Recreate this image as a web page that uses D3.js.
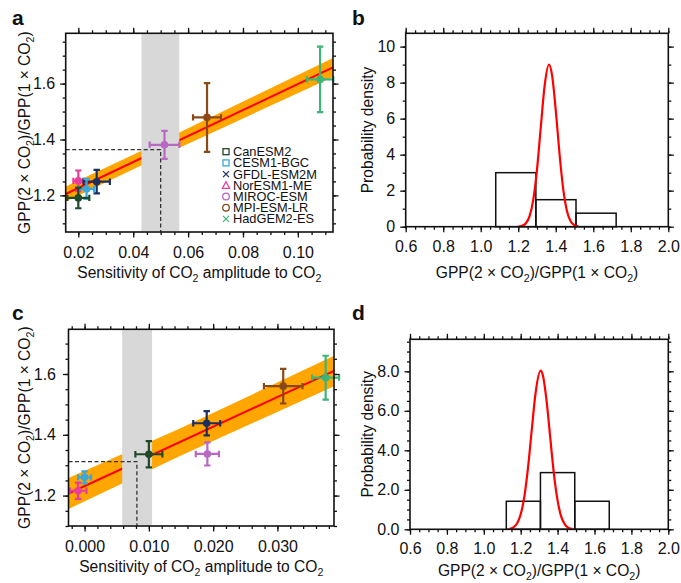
<!DOCTYPE html>
<html><head><meta charset="utf-8">
<script src="https://cdn.jsdelivr.net/npm/d3@7"></script>
<style>
body{margin:0;background:#fff}
svg{display:block}
text{font-family:"Liberation Sans",Arial,Helvetica,sans-serif;fill:#111}
</style>
</head><body>
<svg id="chart" width="681" height="583"></svg>
<script>
// ---------------- DATA ----------------
const models = ["CanESM2","CESM1-BGC","GFDL-ESM2M","NorESM1-ME","MIROC-ESM","MPI-ESM-LR","HadGEM2-ES"];
const modelColors = ["#1f4a29","#3ba7d6","#1d2f5f","#ea3c9b","#b867c3","#8a4917","#3db478"];
const legendSymbols = ["square","square","cross","triangle","circle","circle","cross"];
const drawOrder = [6,5,4,3,2,1,0];

// panel a
const aSens    = [0.0200,0.0230,0.0267,0.0200,0.0514,0.0669,0.1081];
const aSensErr = [0.0040,0.0027,0.0048,0.0018,0.0054,0.0051,0.0048];
const aGpp     = [1.191,1.223,1.249,1.252,1.381,1.479,1.615];
const aGppErr  = [0.037,0.036,0.042,0.037,0.050,0.123,0.117];
const aFitX = [0.0154,0.1128];
const aFitY = [1.205,1.658];
const aBandX  = [0.0154,0.045,0.1128];
const aBandLo = [1.178,1.317,1.624];
const aBandHi = [1.232,1.369,1.692];
const aObsRange = [0.043,0.0568];
const aObsX = 0.050, aPredY = 1.364;
const aXTicks = [0.02,0.04,0.06,0.08,0.10];
const aXLabels = ["0.02","0.04","0.06","0.08","0.10"];
const aYTicks = [1.2,1.4,1.6];
const aYLabels = ["1.2","1.4","1.6"];

// panel c
const cSens    = [0.0100,0.0000,0.0190,-0.0010,0.0191,0.0309,0.0375];
const cSensErr = [0.0021,0.0010,0.0021,0.0013,0.0018,0.0030,0.0021];
const cGpp     = [1.336,1.260,1.438,1.216,1.337,1.560,1.588];
const cGppErr  = [0.043,0.020,0.040,0.027,0.038,0.057,0.072];
const cFitX = [-0.0025,0.0388];
const cFitY = [1.207,1.610];
const cBandX  = [-0.0025,0.015,0.0388];
const cBandLo = [1.156,1.332,1.560];
const cBandHi = [1.258,1.422,1.660];
const cObsRange = [0.00585,0.0105];
const cObsX = 0.00814, cPredY = 1.312;
const cXTicks = [0.000,0.010,0.020,0.030];
const cXLabels = ["0.000","0.010","0.020","0.030"];
const cYTicks = [1.2,1.4,1.6];
const cYLabels = ["1.2","1.4","1.6"];

// panel b
const bBinEdges = [1.080,1.294,1.508,1.722];
const bBinHeights = [3.0,1.5,0.75];
const bCurveX = [1.20,1.22,1.24,1.26,1.28,1.30,1.32,1.34,1.364,1.38,1.40,1.42,1.44,1.46,1.48,1.50,1.52];
const bCurveY = [0.01,0.05,0.18,0.57,1.49,3.17,5.50,7.77,9.00,8.43,6.47,4.05,2.07,0.86,0.29,0.08,0.02];
const bXTicks = [0.6,0.8,1.0,1.2,1.4,1.6,1.8,2.0];
const bXLabels = ["0.6","0.8","1.0","1.2","1.4","1.6","1.8","2.0"];
const bYTicks = [0,2,4,6,8,10];
const bYLabels = ["0","2","4","6","8","10"];

// panel d
const dBinEdges = [1.122,1.307,1.493,1.680];
const dBinHeights = [1.42,2.87,1.42];
const dCurveX = [1.14,1.16,1.18,1.20,1.22,1.24,1.26,1.28,1.308,1.32,1.34,1.36,1.38,1.40,1.42,1.44,1.46,1.48];
const dCurveY = [0.03,0.10,0.29,0.76,1.67,3.15,5.04,6.85,8.03,7.80,6.53,4.65,2.81,1.45,0.63,0.24,0.07,0.02];
const dXTicks = [0.6,0.8,1.0,1.2,1.4,1.6,1.8,2.0];
const dXLabels = ["0.6","0.8","1.0","1.2","1.4","1.6","1.8","2.0"];
const dYTicks = [0,2,4,6,8];
const dYLabels = ["0.0","2.0","4.0","6.0","8.0"];

const gppTitle = [["GPP(2 × CO",0],["2",1],[")/GPP(1 × CO",0],["2",1],[")",0]];
const sensTitle = [["Sensitivity of CO",0],["2",1],[" amplitude to CO",0],["2",1]];
const densTitle = [["Probability density",0]];

// ---------------- DRAWING ----------------
const svg = d3.select("#chart");

function richText(sel, parts, size){
  let inSub = false;
  parts.forEach(([t,sub])=>{
    const ts = sel.append("tspan").text(t);
    if(sub && !inSub){ ts.attr("font-size",size*0.68).attr("dy",size*0.28); inSub=true; }
    else if(!sub && inSub){ ts.attr("dy",-size*0.28); inSub=false; }
    else if(sub){ ts.attr("font-size",size*0.68); }
  });
}

function stepRange(a,b,s){
  const n = Math.round((b-a)/s);
  return d3.range(n+1).map(i=>+(a+i*s).toFixed(6));
}

function panel(cfg){
  const g = svg.append("g");
  const x = d3.scaleLinear().domain(cfg.xDom).range([cfg.x0,cfg.x1]);
  const y = d3.scaleLinear().domain(cfg.yDom).range([cfg.y1,cfg.y0]);
  const inX = v => v>=cfg.xDom[0]-1e-9 && v<=cfg.xDom[1]+1e-9;
  const inY = v => v>=cfg.yDom[0]-1e-9 && v<=cfg.yDom[1]+1e-9;
  const xMinor = stepRange(cfg.xMinor[0],cfg.xMinor[1],cfg.xMinor[2]).filter(inX);
  const yMinor = stepRange(cfg.yMinor[0],cfg.yMinor[1],cfg.yMinor[2]).filter(inY);
  const plot = g.append("g");
  const axes = g.append("g");
  const style = sel => {
    sel.select(".domain").remove();
    sel.selectAll("line").attr("stroke","#111").attr("stroke-width",1.3);
    sel.selectAll("text").attr("font-size",cfg.tickFont).attr("font-family",null).attr("fill","#111");
    sel.attr("font-family",null).attr("font-size",null);
  };
  // bottom
  axes.append("g").attr("transform",`translate(0,${cfg.y1})`)
    .call(d3.axisBottom(x).tickValues(xMinor).tickSize(3).tickFormat("")).call(style);
  axes.append("g").attr("transform",`translate(0,${cfg.y1})`)
    .call(d3.axisBottom(x).tickValues(cfg.xTicks).tickSize(5.5).tickPadding(cfg.xPad)
      .tickFormat((d,i)=>cfg.xLabels[i])).call(style);
  // top
  axes.append("g").attr("transform",`translate(0,${cfg.y0})`)
    .call(d3.axisTop(x).tickValues(xMinor).tickSize(3).tickFormat("")).call(style);
  axes.append("g").attr("transform",`translate(0,${cfg.y0})`)
    .call(d3.axisTop(x).tickValues(cfg.xTicks).tickSize(5.5).tickFormat("")).call(style);
  // left
  axes.append("g").attr("transform",`translate(${cfg.x0},0)`)
    .call(d3.axisLeft(y).tickValues(yMinor).tickSize(3).tickFormat("")).call(style);
  axes.append("g").attr("transform",`translate(${cfg.x0},0)`)
    .call(d3.axisLeft(y).tickValues(cfg.yTicks).tickSize(5.5).tickPadding(cfg.yPad)
      .tickFormat((d,i)=>cfg.yLabels[i])).call(style);
  // right
  axes.append("g").attr("transform",`translate(${cfg.x1},0)`)
    .call(d3.axisRight(y).tickValues(yMinor).tickSize(3).tickFormat("")).call(style);
  axes.append("g").attr("transform",`translate(${cfg.x1},0)`)
    .call(d3.axisRight(y).tickValues(cfg.yTicks).tickSize(5.5).tickFormat("")).call(style);
  // box
  axes.append("rect").attr("x",cfg.x0).attr("y",cfg.y0)
    .attr("width",cfg.x1-cfg.x0).attr("height",cfg.y1-cfg.y0)
    .attr("fill","none").attr("stroke","#111").attr("stroke-width",1.6);
  // titles
  const xt = g.append("text").attr("x",(cfg.x0+cfg.x1)/2).attr("y",cfg.xTitleY)
    .attr("text-anchor","middle").attr("font-size",cfg.titleFont);
  richText(xt,cfg.xTitle,cfg.titleFont);
  const yt = g.append("text")
    .attr("transform",`translate(${cfg.yTitleX},${(cfg.y0+cfg.y1)/2}) rotate(-90)`)
    .attr("text-anchor","middle").attr("font-size",cfg.titleFont);
  richText(yt,cfg.yTitle,cfg.titleFont);
  // panel letter
  g.append("text").attr("x",cfg.labelX).attr("y",cfg.labelY).attr("font-size",21)
    .attr("font-weight","bold").attr("font-family","'Liberation Sans',Arial,sans-serif").text(cfg.label);
  return {g:plot,x,y};
}

function scatterPanel(cfg, d){
  const p = panel(cfg);
  const {x,y,g} = p;
  const area = d3.area().x((v,i)=>x(d.bandX[i])).y0((v,i)=>y(d.bandLo[i])).y1((v,i)=>y(d.bandHi[i]));
  g.append("path").datum(d.bandX).attr("d",area).attr("fill","#ffa600");
  const line = d3.line().x((v,i)=>x(d.fitX[i])).y((v,i)=>y(d.fitY[i]));
  g.append("path").datum(d.fitX).attr("d",line).attr("fill","none").attr("stroke","#ff0000").attr("stroke-width",2);
  g.append("rect").attr("x",x(d.obs[0])).attr("width",x(d.obs[1])-x(d.obs[0]))
    .attr("y",cfg.y0+0.8).attr("height",cfg.y1-cfg.y0-1.6).attr("fill","#d8d8d8");
  g.append("path")
    .attr("d",`M${cfg.x0},${y(d.predY)}H${x(d.obsX)}V${cfg.y1}`)
    .attr("fill","none").attr("stroke","#333").attr("stroke-width",1.3).attr("stroke-dasharray","4,2.5");
  const cap = 3.2;
  drawOrder.forEach(i=>{
    const c = modelColors[i];
    const cx = x(d.sens[i]), cy = y(d.gpp[i]);
    const xl = x(d.sens[i]-d.sensErr[i]), xr = x(d.sens[i]+d.sensErr[i]);
    const yt = y(d.gpp[i]+d.gppErr[i]), yb = y(d.gpp[i]-d.gppErr[i]);
    const pg = g.append("g").attr("stroke",c).attr("stroke-width",2.2).attr("fill","none");
    pg.append("path").attr("d",
      `M${xl},${cy}H${xr}M${cx},${yt}V${yb}`+
      `M${xl},${cy-cap}V${cy+cap}M${xr},${cy-cap}V${cy+cap}`+
      `M${cx-cap},${yt}H${cx+cap}M${cx-cap},${yb}H${cx+cap}`);
    g.append("circle").attr("cx",cx).attr("cy",cy).attr("r",3.8).attr("fill",c);
  });
  return p;
}

function histPanel(cfg, d){
  const p = panel(cfg);
  const {x,y,g} = p;
  d.heights.forEach((h,i)=>{
    g.append("rect").attr("x",x(d.edges[i])).attr("y",y(h))
      .attr("width",x(d.edges[i+1])-x(d.edges[i])).attr("height",y(0)-y(h))
      .attr("fill","none").attr("stroke","#111").attr("stroke-width",1.5);
  });
  const line = d3.line().x((v,i)=>x(d.cx[i])).y((v,i)=>y(d.cy[i])).curve(d3.curveMonotoneX);
  g.append("path").datum(d.cx).attr("d",line).attr("fill","none").attr("stroke","#ff0000").attr("stroke-width",2.2);
  return p;
}

// Panel a
scatterPanel({
  x0:65.7,x1:333,y0:33.3,y1:232, xDom:[0.0154,0.1128], yDom:[1.069,1.78],
  xTicks:aXTicks,xLabels:aXLabels,yTicks:aYTicks,yLabels:aYLabels,
  xMinor:[0.015,0.115,0.005], yMinor:[1.05,1.80,0.05],
  tickFont:16, titleFont:15.6, xPad:9, yPad:5, xTitleY:278, yTitleX:30,
  xTitle:sensTitle, yTitle:gppTitle, label:"a", labelX:12, labelY:25
},{sens:aSens,sensErr:aSensErr,gpp:aGpp,gppErr:aGppErr,fitX:aFitX,fitY:aFitY,
   bandX:aBandX,bandLo:aBandLo,bandHi:aBandHi,obs:aObsRange,obsX:aObsX,predY:aPredY});

// legend in panel a
const leg = svg.append("g");
models.forEach((m,i)=>{
  const ly = 151.7 + i*11.2, lx = 226;
  const c = modelColors[i], s = legendSymbols[i];
  const gg = leg.append("g").attr("stroke",c).attr("stroke-width",1.3).attr("fill","none");
  if(s==="square") gg.append("rect").attr("x",lx-3).attr("y",ly-3).attr("width",6).attr("height",6);
  else if(s==="circle") gg.append("circle").attr("cx",lx).attr("cy",ly).attr("r",3.3);
  else if(s==="triangle") gg.append("path").attr("d",`M${lx},${ly-3.6}L${lx+3.6},${ly+3}L${lx-3.6},${ly+3}Z`);
  else gg.append("path").attr("d",`M${lx-3},${ly-3}L${lx+3},${ly+3}M${lx-3},${ly+3}L${lx+3},${ly-3}`);
  leg.append("text").attr("x",lx+7).attr("y",ly+4.5).attr("font-size",12.8).text(m);
});

// Panel b
histPanel({
  x0:405.7,x1:668.3,y0:33.3,y1:226.7, xDom:[0.6,2.0], yDom:[0,10.74],
  xTicks:bXTicks,xLabels:bXLabels,yTicks:bYTicks,yLabels:bYLabels,
  xMinor:[0.6,2.0,0.05], yMinor:[0,10,1],
  tickFont:16, titleFont:15.6, xPad:8.5, yPad:5, xTitleY:278, yTitleX:373,
  xTitle:gppTitle, yTitle:densTitle, label:"b", labelX:352, labelY:25
},{edges:bBinEdges,heights:bBinHeights,cx:bCurveX,cy:bCurveY});

// Panel c
scatterPanel({
  x0:68.5,x1:334,y0:329.3,y1:526, xDom:[-0.0025,0.0388], yDom:[1.100,1.747],
  xTicks:cXTicks,xLabels:cXLabels,yTicks:cYTicks,yLabels:cYLabels,
  xMinor:[-0.002,0.038,0.002], yMinor:[1.10,1.75,0.05],
  tickFont:16, titleFont:15.6, xPad:9, yPad:7, xTitleY:572, yTitleX:30,
  xTitle:sensTitle, yTitle:gppTitle, label:"c", labelX:12, labelY:320
},{sens:cSens,sensErr:cSensErr,gpp:cGpp,gppErr:cGppErr,fitX:cFitX,fitY:cFitY,
   bandX:cBandX,bandLo:cBandLo,bandHi:cBandHi,obs:cObsRange,obsX:cObsX,predY:cPredY});

// Panel d
histPanel({
  x0:410,x1:668.3,y0:339.3,y1:529.3, xDom:[0.6,2.0], yDom:[0,9.62],
  xTicks:dXTicks,xLabels:dXLabels,yTicks:dYTicks,yLabels:dYLabels,
  xMinor:[0.6,2.0,0.05], yMinor:[0,9.5,0.5],
  tickFont:16, titleFont:15.6, xPad:7.5, yPad:5, xTitleY:576, yTitleX:373,
  xTitle:gppTitle, yTitle:densTitle, label:"d", labelX:352, labelY:320
},{edges:dBinEdges,heights:dBinHeights,cx:dCurveX,cy:dCurveY});
</script>
</body></html>
